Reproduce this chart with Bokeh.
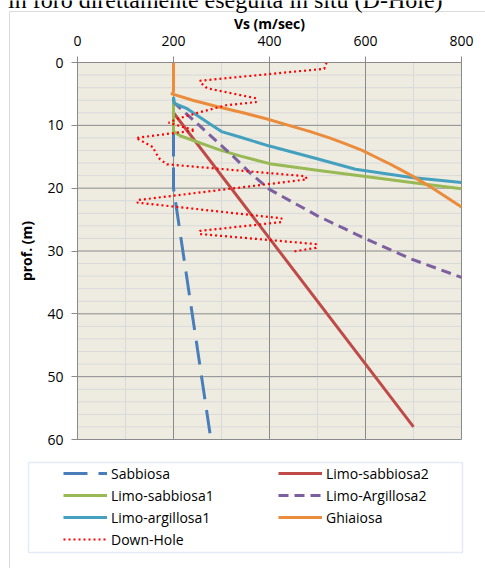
from bokeh.plotting import figure
from bokeh.models import Range1d, FixedTicker, Legend, LegendItem, BoxAnnotation, Label
from bokeh.embed import file_html
from bokeh.resources import INLINE

# ---------------- data (Vs in m/sec, depth in m) ----------------
x_ticks = [0, 200, 400, 600, 800]
x_minor = [100, 300, 500, 700]
y_ticks = [0, 10, 20, 30, 40, 50, 60]
y_minor = [2, 4, 6, 8, 12, 14, 16, 18, 22, 24, 26, 28, 32, 34, 36, 38,
           42, 44, 46, 48, 52, 54, 56, 58]

sabbiosa_vs = [200, 200, 276]
sabbiosa_d = [0, 20, 59]

limo_sabbiosa2_vs = [200, 400, 700]
limo_sabbiosa2_d = [8, 28, 58]

limo_sabbiosa1_vs = [200, 200, 215, 296, 340, 400, 503, 596, 696, 800]
limo_sabbiosa1_d = [6.2, 11.0, 11.7, 13.9, 14.9, 16.1, 17.2, 18.1, 19.1, 20.1]

limo_argillosa2_vs = [200, 255, 324, 360, 400, 500, 596, 696, 800]
limo_argillosa2_d = [6.3, 10.1, 14.9, 17.6, 20.2, 24.4, 27.9, 31.3, 34.2]

limo_argillosa1_vs = [200, 202, 227, 276, 300, 340, 400, 503, 579, 696, 800]
limo_argillosa1_d = [5.5, 6.5, 7.3, 9.8, 11.0, 11.9, 13.3, 15.4, 17.0, 18.3, 19.1]

ghiaiosa_vs = [200, 200, 197, 240, 290, 345, 395, 440, 485, 525, 560, 593, 620,
               647, 672, 696, 718, 740, 760, 780, 800]
ghiaiosa_d = [0, 4.6, 5.0, 6, 7, 8, 9, 10, 11, 12, 13, 14, 15,
              16, 17, 18, 19, 20, 21, 22, 23]

downhole_vs = [519, 514, 255, 258, 270, 372, 372, 310, 255, 207, 190, 245, 122,
               158, 162, 172, 186, 475, 478, 125, 125, 425, 425, 255, 255, 497, 497, 448]
downhole_d = [0, 1.0, 2.9, 3.3, 4.1, 5.7, 6.3, 6.8, 7.9, 9.0, 9.6, 10.8, 12.0,
              13.5, 14.3, 15.4, 16.2, 18.1, 18.6, 21.9, 22.3, 24.8, 25.4, 26.8, 27.3, 28.9, 29.5, 30.1]

# ---------------- layout / style ----------------
W, H = 485, 568
PL, PR, PT, PB = 77, 461, 62, 439      # plot-area edges in pixels
FONT = "Open Sans"
GRID_MAJOR = "#8a8a8a"
GRID_MINOR = "#d9d9d9"

kx = (PR - PL) / (x_ticks[-1] - x_ticks[0])
ky = (PB - PT) / (y_ticks[-1] - y_ticks[0])
x_range = Range1d(x_ticks[0] - PL / kx, x_ticks[-1] + (W - PR) / kx)
y_range = Range1d(y_ticks[-1] + (H - PB) / ky, y_ticks[0] - PT / ky)

p = figure(width=W, height=H, output_backend="svg", toolbar_location=None,
           x_range=x_range, y_range=y_range, x_axis_location="above",
           min_border=0, min_border_left=0, min_border_right=0,
           min_border_top=0, min_border_bottom=0)
p.background_fill_color = "white"
p.border_fill_color = "white"
p.outline_line_color = None
p.xgrid.visible = False
p.ygrid.visible = False

# plot area background
p.quad(left=[x_ticks[0]], right=[x_ticks[-1]], top=[y_ticks[0]], bottom=[y_ticks[-1]],
       fill_color="#EEECE1", line_color=None)
# gridlines
y0, y1 = y_ticks[0], y_ticks[-1]
x0, x1 = x_ticks[0], x_ticks[-1]
p.segment(x0=x_minor, y0=[y0] * len(x_minor), x1=x_minor, y1=[y1] * len(x_minor),
          line_color=GRID_MINOR, line_width=1)
p.segment(x0=[x0] * len(y_minor), y0=y_minor, x1=[x1] * len(y_minor), y1=y_minor,
          line_color=GRID_MINOR, line_width=1)
p.segment(x0=x_ticks, y0=[y0] * len(x_ticks), x1=x_ticks, y1=[y1] * len(x_ticks),
          line_color=GRID_MAJOR, line_width=1)
p.segment(x0=[x0] * len(y_ticks), y0=y_ticks, x1=[x1] * len(y_ticks), y1=y_ticks,
          line_color=GRID_MAJOR, line_width=1)

xt = FixedTicker(ticks=x_ticks, minor_ticks=x_minor)
yt = FixedTicker(ticks=y_ticks, minor_ticks=y_minor)
for ax, tk in ((p.xaxis[0], xt), (p.yaxis[0], yt)):
    ax.ticker = tk
    ax.fixed_location = 0
    ax.axis_line_color = GRID_MAJOR
    ax.major_tick_line_color = GRID_MAJOR
    ax.major_tick_out = 6
    ax.major_tick_in = 0
    ax.minor_tick_line_color = None
    ax.major_label_text_font = FONT
    ax.major_label_text_font_size = "14px"
    ax.major_label_text_color = "#000000"
    ax.axis_label_text_font = FONT
    ax.axis_label_text_font_size = "14px"
    ax.axis_label_text_font_style = "bold"
    ax.axis_label_text_color = "#000000"
p.xaxis.bounds = (x_ticks[0], x_ticks[-1])
p.yaxis.bounds = (y_ticks[0], y_ticks[-1])
p.xaxis.axis_label = "Vs (m/sec)"
p.xaxis.major_label_standoff = 11
p.xaxis.axis_label_standoff = 0
p.yaxis.axis_label = "prof. (m)"
p.yaxis.major_label_standoff = 8
p.yaxis.axis_label_standoff = 8

LW = 3
r1 = p.line(sabbiosa_vs, sabbiosa_d, line_color="#4A7EBB", line_width=LW, line_dash="24 11")
r2 = p.line(limo_sabbiosa2_vs, limo_sabbiosa2_d, line_color="#BE4B48", line_width=LW,
            line_join="round")
r3 = p.line(limo_sabbiosa1_vs, limo_sabbiosa1_d, line_color="#98B954", line_width=LW,
            line_join="round")
r4 = p.line(limo_argillosa2_vs, limo_argillosa2_d, line_color="#7D60A0", line_width=LW,
            line_dash="10 6", line_join="round")
r5 = p.line(limo_argillosa1_vs, limo_argillosa1_d, line_color="#43A1BF", line_width=LW,
            line_join="round")
r6 = p.line(ghiaiosa_vs, ghiaiosa_d, line_color="#EB8C3D", line_width=LW, line_join="round")
r7 = p.line(downhole_vs, downhole_d, line_color="#FF0000", line_width=2.2, line_dash="2 3")

# chart-area border (left/top edges visible)
p.add_layout(BoxAnnotation(left=9, right=W + 50, top=H - 11, bottom=-50,
                           left_units="screen", right_units="screen",
                           top_units="screen", bottom_units="screen",
                           fill_alpha=0, line_color="#8c8c8c", line_width=1))
# legend box
p.add_layout(BoxAnnotation(left=28, right=462, top=H - 462, bottom=H - 552,
                           left_units="screen", right_units="screen",
                           top_units="screen", bottom_units="screen",
                           fill_alpha=0, line_color="#A5BEDF", line_width=1.5))

# legend is filled column by column: left column first, then right column
legend = Legend(items=[
    LegendItem(label="Sabbiosa", renderers=[r1]),
    LegendItem(label="Limo-sabbiosa1", renderers=[r3]),
    LegendItem(label="Limo-argillosa1", renderers=[r5]),
    LegendItem(label="Down-Hole", renderers=[r7]),
    LegendItem(label="Limo-sabbiosa2", renderers=[r2]),
    LegendItem(label="Limo-Argillosa2", renderers=[r4]),
    LegendItem(label="Ghiaiosa", renderers=[r6]),
], ncols=2, location=(63, H - 463 - 86), margin=0, padding=0, spacing=2,
   glyph_width=44, glyph_height=20, label_height=20, label_width=165, label_standoff=4,
   label_text_font=FONT, label_text_font_size="14px", label_text_color="#000000",
   border_line_color=None, background_fill_alpha=0)
p.add_layout(legend, "center")

# document text above the chart (cropped at the top in the original)
p.add_layout(Label(x=7.5, y=H + 1, x_units="screen", y_units="screen",
                   text="in foro direttamente eseguita in situ (D-Hole)",
                   text_font="Liberation Serif", text_font_size="24px",
                   text_baseline="alphabetic", text_color="#000000"))

open("out.html", "w").write(file_html(p, INLINE))
